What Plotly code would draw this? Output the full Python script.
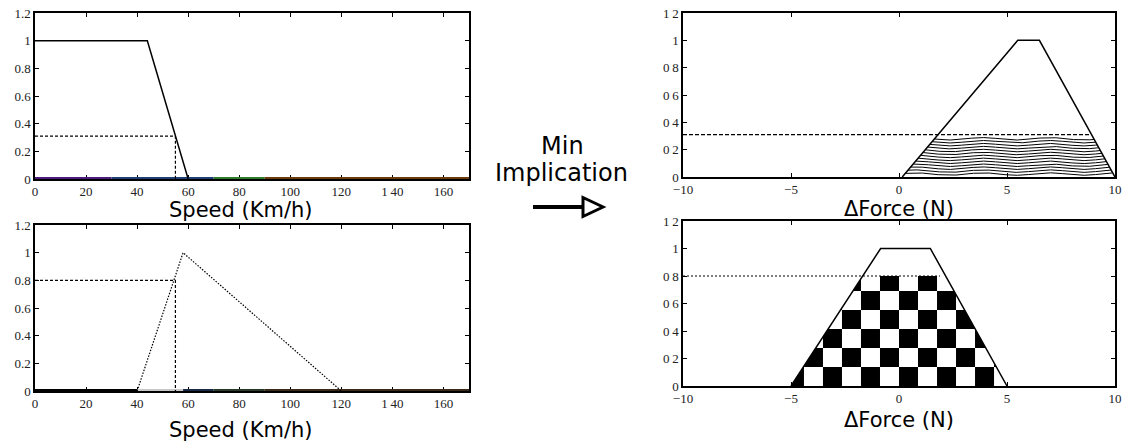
import numpy as np
import plotly.graph_objects as go

W, H = 1123, 445

# ---------------- data ----------------
speed_tickvals = [0, 20, 40, 60, 80, 100, 120, 140, 160]
speed_ticktext = ["0", "20", "40", "60", "80", "100", "120", "1\u200940", "160"]
mu_tickvals = [0, 0.2, 0.4, 0.6, 0.8, 1, 1.2]
mu_ticktext_left = ["0", "0.2", "0.4", "0.6", "0.8", "1", "1.2"]
mu_ticktext_right = ["0", "0\u20092", "0\u20094", "0\u20096", "0\u20098", "1", "1\u20092"]
force_tickvals = [-10, -5, 0, 5, 10]
force_ticktext = ["\u221210", "\u22125", "0", "5", "10"]

# top-left: "low speed" membership function
speed_low_x = [0, 44, 60]
speed_low_mu = [1, 1, 0]
speed_zero_edges_top = [0, 30, 70, 90, 170]          # other sets lying on zero
# bottom-left: "medium speed" membership function
speed_med_x = [40, 58, 120]
speed_med_mu = [0, 1, 0]
speed_zero_edges_bot = [0, 40, 58, 70, 90, 170]

speed_input = 55
mu_low = 0.31
mu_med = 0.8

# right: output sets
force_pos_x = [0.15, 5.5, 6.5, 10]
force_pos_mu = [0, 1, 1, 0]
force_zero_x = [-5, -0.85, 1.45, 5]
force_zero_mu = [0, 1, 1, 0]

# ---------------- styles ----------------
zero_colors_top = ["#4a1c7c", "#1d3f73", "#2e7b2e", "#6b3b0c"]
zero_colors_bot = ["#000000", "#c8c8c8", "#1a2a44", "#2a3a2a", "#3a2a1a"]
TICKFONT = dict(family="Liberation Serif", size=13, color="#222222")
TITLEFONT = dict(family="DejaVu Sans", size=21, color="black")


def edge_x(x0, y0, x1, y1, y):
    return x0 + (np.asarray(y) - y0) * (x1 - x0) / (y1 - y0)


def clip_poly(subject, clip):
    """Sutherland-Hodgman clipping of subject polygon by convex clip polygon (CCW)."""
    def inside(p, a, b):
        return (b[0] - a[0]) * (p[1] - a[1]) - (b[1] - a[1]) * (p[0] - a[0]) >= 0

    def inter(p1, p2, a, b):
        x1, y1 = p1; x2, y2 = p2; x3, y3 = a; x4, y4 = b
        den = (x1 - x2) * (y3 - y4) - (y1 - y2) * (x3 - x4)
        t = ((x1 - x3) * (y3 - y4) - (y1 - y3) * (x3 - x4)) / den
        return (x1 + t * (x2 - x1), y1 + t * (y2 - y1))

    out = list(subject)
    for i in range(len(clip)):
        a, b = clip[i], clip[(i + 1) % len(clip)]
        inp = out
        out = []
        if not inp:
            break
        s = inp[-1]
        for e in inp:
            if inside(e, a, b):
                if not inside(s, a, b):
                    out.append(inter(s, e, a, b))
                out.append(e)
            elif inside(s, a, b):
                out.append(inter(s, e, a, b))
            s = e
    return out


fig = go.Figure()

# ---- top-left ----
for i, c in enumerate(zero_colors_top):
    fig.add_trace(go.Scatter(x=[speed_zero_edges_top[i], speed_zero_edges_top[i + 1]], y=[0, 0],
                             mode="lines", line=dict(color=c, width=4), xaxis="x", yaxis="y"))
fig.add_trace(go.Scatter(x=speed_low_x, y=speed_low_mu, mode="lines",
                         line=dict(color="black", width=1.5), xaxis="x", yaxis="y"))
fig.add_trace(go.Scatter(x=[0, speed_input, speed_input], y=[mu_low, mu_low, 0], mode="lines",
                         line=dict(color="black", width=1.2, dash="3px,2px"), xaxis="x", yaxis="y"))

# ---- bottom-left ----
for i, c in enumerate(zero_colors_bot):
    fig.add_trace(go.Scatter(x=[speed_zero_edges_bot[i], speed_zero_edges_bot[i + 1]], y=[0, 0],
                             mode="lines", line=dict(color=c, width=4), xaxis="x2", yaxis="y2"))
fig.add_trace(go.Scatter(x=speed_med_x, y=speed_med_mu, mode="lines",
                         line=dict(color="black", width=1.2, dash="1.5px,1.5px"), xaxis="x2", yaxis="y2"))
fig.add_trace(go.Scatter(x=[0, speed_input, speed_input], y=[mu_med, mu_med, 0], mode="lines",
                         line=dict(color="black", width=1.2, dash="3px,2px"), xaxis="x2", yaxis="y2"))

# ---- top-right: wavy hatch under mu_low ----
xs = np.linspace(force_pos_x[0], force_pos_x[-1], 1200)
hx, hy = [], []
for k in range(1, 14):
    ys = k * 0.0215 + 0.009 * np.sin(2 * np.pi * xs / 3.1)
    xl = edge_x(force_pos_x[0], 0, force_pos_x[1], 1, ys)
    xr = edge_x(force_pos_x[3], 0, force_pos_x[2], 1, ys)
    ok = (xs >= xl) & (xs <= xr) & (ys <= mu_low - 0.012)
    for xv, yv, m in zip(xs, ys, ok):
        if m:
            hx.append(float(xv)); hy.append(float(yv))
        elif hx and hx[-1] is not None:
            hx.append(None); hy.append(None)
    hx.append(None); hy.append(None)
fig.add_trace(go.Scatter(x=hx, y=hy, mode="lines", line=dict(color="black", width=1),
                         xaxis="x3", yaxis="y3"))
fig.add_trace(go.Scatter(x=force_pos_x, y=force_pos_mu, mode="lines",
                         line=dict(color="black", width=1.5), xaxis="x3", yaxis="y3"))
xr_low = float(edge_x(force_pos_x[3], 0, force_pos_x[2], 1, mu_low))
fig.add_trace(go.Scatter(x=[-10, xr_low], y=[mu_low, mu_low], mode="lines",
                         line=dict(color="black", width=1.2, dash="4px,2px"), xaxis="x3", yaxis="y3"))

# ---- bottom-right: checkerboard under mu_med ----
xl_med = float(edge_x(force_zero_x[0], 0, force_zero_x[1], 1, mu_med))
xr_med = float(edge_x(force_zero_x[3], 0, force_zero_x[2], 1, mu_med))
clip = [(force_zero_x[0], 0), (force_zero_x[3], 0), (xr_med, mu_med), (xl_med, mu_med)]
CW, CH = 0.88, 0.138
cx, cy = [], []
for c in range(-7, 7):
    for r in range(0, 7):
        if (c + r) % 2:
            continue
        sq = [(c * CW, r * CH), ((c + 1) * CW, r * CH), ((c + 1) * CW, (r + 1) * CH), (c * CW, (r + 1) * CH)]
        poly = clip_poly(sq, clip)
        if len(poly) >= 3:
            cx += [p[0] for p in poly] + [poly[0][0], None]
            cy += [p[1] for p in poly] + [poly[0][1], None]
fig.add_trace(go.Scatter(x=cx, y=cy, mode="lines", fill="toself", fillcolor="black",
                         line=dict(color="black", width=0), xaxis="x4", yaxis="y4"))
fig.add_trace(go.Scatter(x=force_zero_x, y=force_zero_mu, mode="lines",
                         line=dict(color="black", width=1.5), xaxis="x4", yaxis="y4"))
fig.add_trace(go.Scatter(x=[-10, 1.9], y=[mu_med, mu_med], mode="lines",
                         line=dict(color="black", width=1.2, dash="2px,2px"), xaxis="x4", yaxis="y4"))


def px(v):
    return v / W


def py(v):
    return 1 - v / H


def axis(domain, rng, tv, tt, anchor):
    return dict(domain=domain, range=rng, tickvals=tv, ticktext=tt, anchor=anchor,
                ticks="inside", ticklen=4, tickwidth=1, tickcolor="black",
                showline=True, linewidth=1.5, linecolor="black", mirror="ticks",
                showgrid=False, zeroline=False, tickfont=TICKFONT, layer="below traces",
                fixedrange=True, automargin=False)


L = [px(35), px(469)]
R = [px(683), px(1115)]
TL = [py(179), py(13)]
BLd = [py(391), py(225)]
TR = [py(177), py(13)]
BR = [py(386), py(221)]

fig.update_layout(
    width=W, height=H, margin=dict(l=0, r=0, t=0, b=0, autoexpand=False),
    paper_bgcolor="white", plot_bgcolor="white", showlegend=False,
    xaxis=axis(L, [0, 170], speed_tickvals, speed_ticktext, "y"),
    yaxis=axis(TL, [0, 1.2], mu_tickvals, mu_ticktext_left, "x"),
    xaxis2=axis(L, [0, 170], speed_tickvals, speed_ticktext, "y2"),
    yaxis2=axis(BLd, [0, 1.2], mu_tickvals, mu_ticktext_left, "x2"),
    xaxis3=axis(R, [-10, 10], force_tickvals, force_ticktext, "y3"),
    yaxis3=axis(TR, [0, 1.2], mu_tickvals, mu_ticktext_right, "x3"),
    xaxis4=axis(R, [-10, 10], force_tickvals, force_ticktext, "y4"),
    yaxis4=axis(BR, [0, 1.2], mu_tickvals, mu_ticktext_right, "x4"),
)

ann = [
    ("Speed (Km/h)", 241, 210, TITLEFONT),
    ("Speed (Km/h)", 241, 430, TITLEFONT),
    ("\u0394Force (N)", 899, 209, TITLEFONT),
    ("\u0394Force (N)", 899, 420, TITLEFONT),
    ("Min", 562, 145.5, dict(family="DejaVu Sans", size=24, color="black")),
    ("Implication", 561, 173, dict(family="DejaVu Sans", size=24, color="black")),
]
for t, x, y, f in ann:
    fig.add_annotation(text=t, x=px(x), y=py(y), xref="paper", yref="paper",
                       xanchor="center", yanchor="middle", showarrow=False, font=f)

# arrow
fig.add_shape(type="line", xref="paper", yref="paper", x0=px(533), x1=px(583), y0=py(207), y1=py(207),
              line=dict(color="black", width=4))
fig.add_shape(type="path", xref="paper", yref="paper",
              path=f"M {px(583)},{py(197.5)} L {px(603)},{py(207)} L {px(583)},{py(216.5)} Z",
              fillcolor="white", line=dict(color="black", width=3))

fig.write_html("out.html", config={"displayModeBar": False},
               post_script="document.body.style.margin='0px';")
